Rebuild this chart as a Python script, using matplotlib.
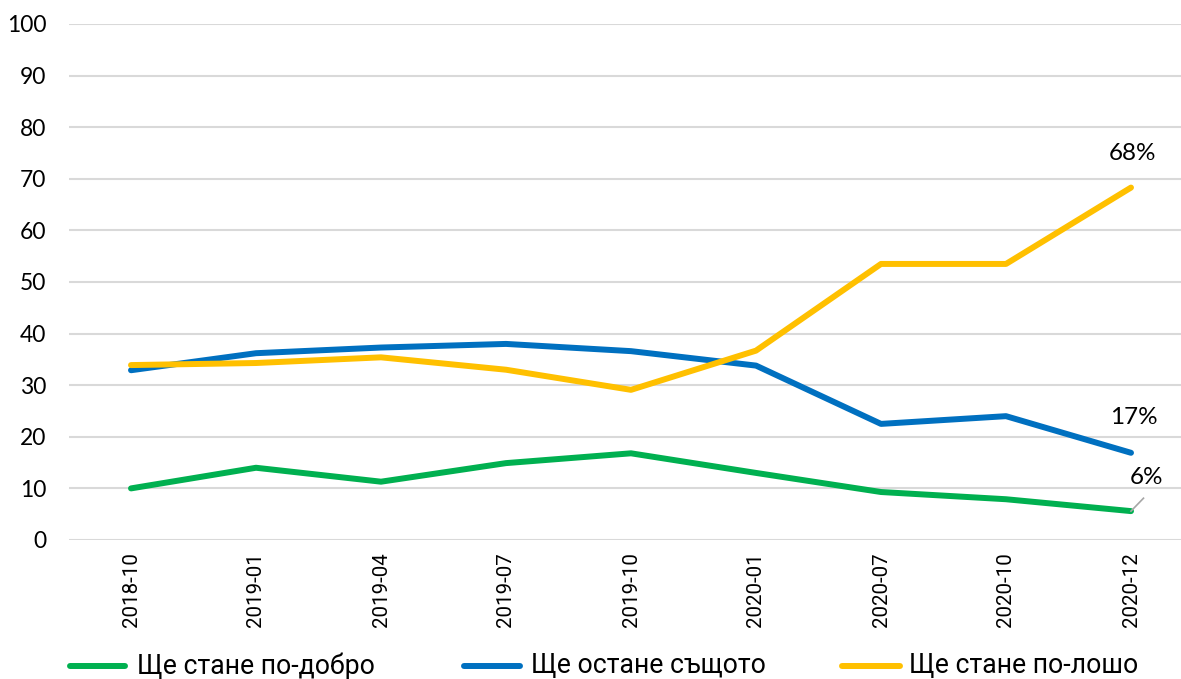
import matplotlib
matplotlib.use("Agg")
import matplotlib.pyplot as plt
from matplotlib.lines import Line2D

categories = ["2018-10", "2019-01", "2019-04", "2019-07", "2019-10",
              "2020-01", "2020-07", "2020-10", "2020-12"]
better = [10.0, 14.0, 11.3, 14.9, 16.8, 13.0, 9.3, 7.9, 5.6]
same = [32.9, 36.2, 37.3, 38.0, 36.6, 33.8, 22.5, 24.0, 16.9]
worse = [33.9, 34.3, 35.4, 33.0, 29.1, 36.7, 53.5, 53.5, 68.3]
series_names = ["Ще стане по-добро", "Ще остане същото", "Ще стане по-лошо"]
colors = ["#00B050", "#0070C0", "#FFC000"]
end_labels = ["6%", "17%", "68%"]
yticks = [0, 10, 20, 30, 40, 50, 60, 70, 80, 90, 100]

W, H = 1181, 679
fig = plt.figure(figsize=(W / 100, H / 100), dpi=100)
ax = fig.add_axes([68.5 / W, 1 - 540 / H, 1 - 68.5 / W, (540 - 24) / H])

x = list(range(len(categories)))
for vals, c in zip([better, same, worse], colors):
    ax.plot(x, vals, color=c, lw=4.3, solid_capstyle="round", solid_joinstyle="round", zorder=3)

num_font = ["Lato", "DejaVu Sans"]
ax.set_xlim(-0.5, 8.4)
ax.set_ylim(0, 100)
ax.set_yticks(yticks)
ax.set_yticklabels([str(t) for t in yticks], fontsize=16.5, family=num_font)
ax.set_xticks(x)
ax.set_xticklabels(categories, rotation=90, fontsize=14.8, family=["Roboto", "DejaVu Sans"])
ax.tick_params(axis="both", length=0, colors="black")
ax.tick_params(axis="y", pad=16)
ax.tick_params(axis="x", pad=9)
ax.grid(axis="y", color="#D9D9D9", lw=1.5)
ax.set_axisbelow(True)
for s in ax.spines.values():
    s.set_visible(False)

# end labels
ax.annotate(end_labels[2], (8, worse[-1]), xytext=(1, 17), textcoords="offset points",
            ha="center", va="bottom", fontsize=17.5, family=num_font)
ax.annotate(end_labels[1], (8, same[-1]), xytext=(2, 18), textcoords="offset points",
            ha="center", va="bottom", fontsize=17.5, family=num_font)
ax.annotate(end_labels[0], (8, better[-1]), xytext=(11, 16.5), textcoords="offset points",
            ha="center", va="bottom", fontsize=17.5, family=num_font)
ax.plot([8, 8.1], [better[-1], better[-1] + 2.5], color="#A6A6A6", lw=1.2, zorder=4)

# legend
leg_pos = [(70, 125, 137), (464, 520, 531), (842, 900, 909)]
ly = 1 - 666 / H
for (x0, x1, tx), name, c in zip(leg_pos, series_names, colors):
    fig.add_artist(Line2D([x0 / W, x1 / W], [ly, ly], color=c, lw=4.3,
                          solid_capstyle="round", transform=fig.transFigure))
    fig.text(tx / W, ly, name, va="center", ha="left", fontsize=19.2,
             family=["Roboto", "DejaVu Sans"])

fig.savefig("out.png", dpi=100)
